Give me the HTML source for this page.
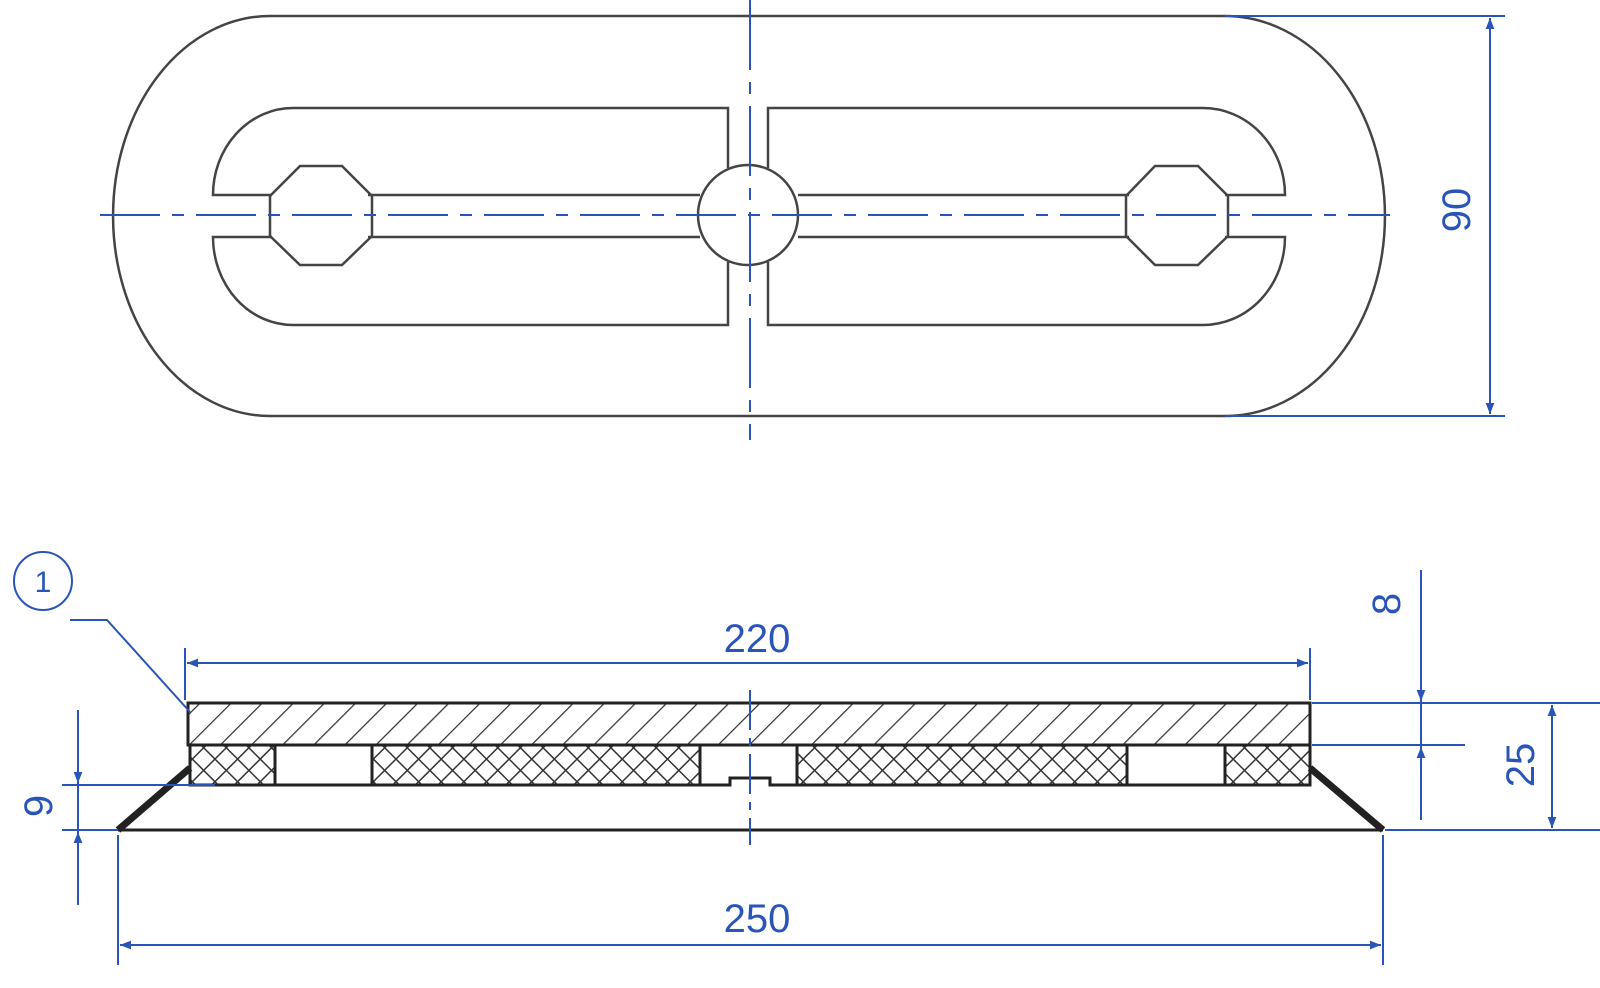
<!DOCTYPE html>
<html><head><style>body{margin:0;background:#fff}svg{display:block}</style></head><body>
<svg width="1600" height="988" viewBox="0 0 1600 988" xmlns="http://www.w3.org/2000/svg" font-family="Liberation Sans, sans-serif">
<defs>
<pattern id="h" width="22" height="22" patternUnits="userSpaceOnUse" patternTransform="rotate(45)"><line x1="0" y1="0" x2="0" y2="22" stroke="#333" stroke-width="2.5"/></pattern>
<pattern id="x" width="16" height="16" patternUnits="userSpaceOnUse" patternTransform="rotate(45)"><path d="M0 0V16M0 0H16" stroke="#333" stroke-width="3"/></pattern>
<marker id="a" viewBox="0 0 10 10" refX="10" refY="5" markerWidth="22" markerHeight="11" orient="auto-start-reverse" markerUnits="userSpaceOnUse"><path d="M0 1L10 5L0 9z" fill="#2a55b8"/></marker>
</defs>
<g fill="none" stroke="#444" stroke-width="2.5">
<path d="M270 16H1225A160 200 0 0 1 1225 416H270A157 200 0 0 1 270 16Z"/>
<path d="M728 168V108H293A80 87 0 0 0 213 195H272 M368 195H700 M368 237H700 M272 237H213A80 88 0 0 0 293 325H728V262"/>
<path d="M768 168V108H1203A82 87 0 0 1 1285 195H1225 M1129 195H798 M1129 237H798 M1225 237H1285A82 88 0 0 1 1203 325H768V262"/>
<path d="M300 166H342L372 196V236L342 265H300L270 236V196Z"/>
<path d="M1155 166H1198L1228 196V236L1198 265H1155L1126 236V196Z"/>
<circle cx="748" cy="215" r="50"/>
</g>
<g stroke="#2a55b8" stroke-width="2" fill="none">
<path d="M100 215H1390" stroke-dasharray="60 12 12 12"/>
<path d="M750 0V440" stroke-dasharray="70 12 12 12"/>
<path d="M1225 16H1505M1225 416H1505"/>
<path d="M1490 18V414" marker-start="url(#a)" marker-end="url(#a)"/>
</g>
<text x="1470" y="210" transform="rotate(-90 1470 210)" fill="#2a55b8" font-size="40" text-anchor="middle">90</text>

<rect x="188" y="703" width="1122" height="42" fill="url(#h)" stroke="#222" stroke-width="3"/>
<g stroke="#222" stroke-width="3" fill="url(#x)">
<rect x="190" y="745" width="85" height="40"/><rect x="372" y="745" width="328" height="40"/>
<rect x="797" y="745" width="330" height="40"/><rect x="1225" y="745" width="85" height="40"/>
</g>
<g stroke="#222" stroke-width="3" fill="none">
<path d="M275 785H372M700 785H730V778H770V785H797M1127 785H1225"/>
<path d="M118 830H1383"/>
<path d="M190 768L118 830M1310 768L1383 830" stroke-width="7"/>
</g>
<g stroke="#2a55b8" stroke-width="2" fill="none">
<path d="M750 690V845" stroke-dasharray="40 8 8 8"/>
<path d="M185 648V700M1310 648V700"/>
<path d="M187 663H1308" marker-start="url(#a)" marker-end="url(#a)"/>
<path d="M118 835V965M1383 835V965"/>
<path d="M120 945H1381" marker-start="url(#a)" marker-end="url(#a)"/>
<path d="M1312 703H1600M1312 745H1465M1385 830H1600"/>
<path d="M1421 570V820"/>
<path d="M1421 662V701" marker-end="url(#a)"/><path d="M1421 787V747" marker-end="url(#a)"/>
<path d="M1552 705V828" marker-start="url(#a)" marker-end="url(#a)"/>
<path d="M62 785H215M62 830H118"/>
<path d="M78 710V905"/>
<path d="M78 745V783" marker-end="url(#a)"/><path d="M78 870V832" marker-end="url(#a)"/>
<circle cx="43" cy="581" r="29"/>
<path d="M70 620H107L190 712"/>
</g>
<g fill="#2a55b8" font-size="40" text-anchor="middle">
<text x="757" y="652">220</text>
<text x="757" y="932">250</text>
<text x="1400" y="604" transform="rotate(-90 1400 604)">8</text>
<text x="1534" y="765" transform="rotate(-90 1534 765)">25</text>
<text x="52" y="806" transform="rotate(-90 52 806)">9</text>
<text x="43" y="592" font-size="30">1</text>
</g>
</svg>
</body></html>
